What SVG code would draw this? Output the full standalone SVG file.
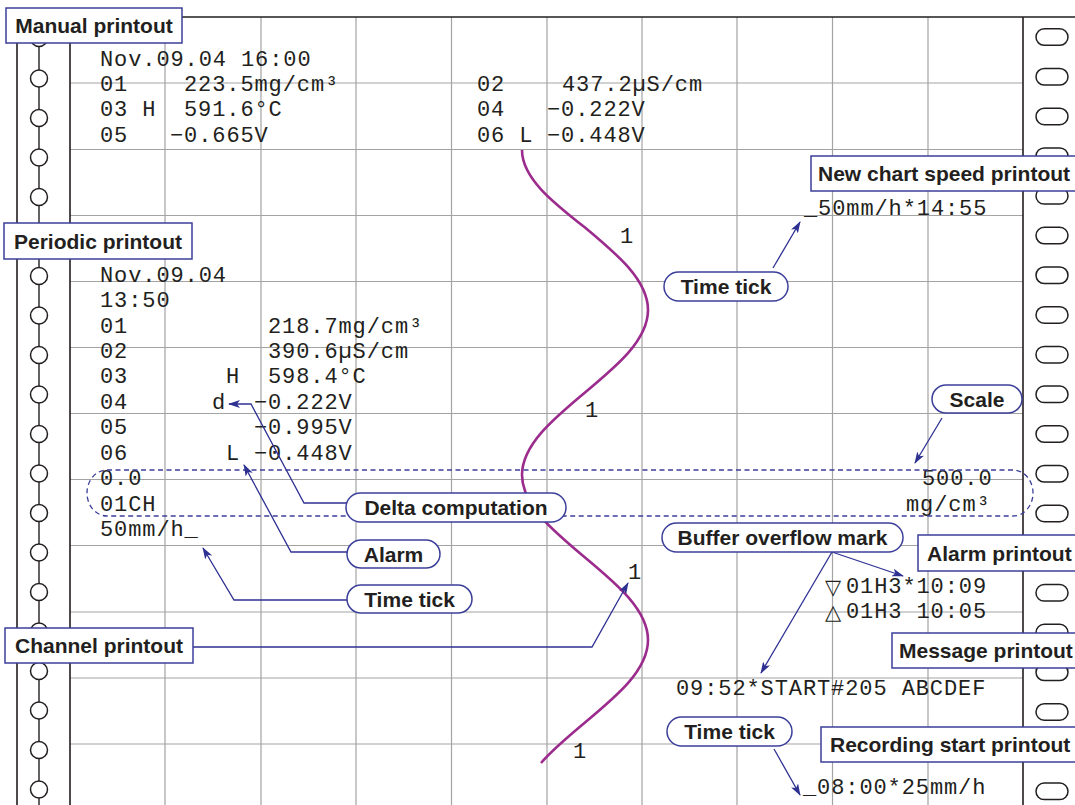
<svg xmlns="http://www.w3.org/2000/svg" width="1075" height="805" viewBox="0 0 1075 805">
<defs>
<style>
.grid{stroke:#a3a3a3;stroke-width:1.2;fill:none}
.frame{stroke:#231f20;stroke-width:1.6;fill:none}
.hole{fill:#fff;stroke:#231f20;stroke-width:1.5}
.mono{font-family:"Liberation Mono","Courier New",monospace;font-size:22px;letter-spacing:0.9px;fill:#231f20}
.sym{font-family:"DejaVu Sans",sans-serif;font-size:21px;fill:#231f20}
.lbl{font-family:"Liberation Sans",Arial,sans-serif;font-weight:bold;font-size:21px;fill:#231f20}
.box{fill:#fff;stroke:#3b3f99;stroke-width:1.5}
.conn{fill:none;stroke:#2e3192;stroke-width:1.3}
.dash{fill:none;stroke:#3b3f99;stroke-width:1.3;stroke-dasharray:5 3.5}
.curve{fill:none;stroke:#9b2b8c;stroke-width:2.6}
</style>
<marker id="ah" viewBox="0 0 12 8" refX="11" refY="4" markerWidth="12" markerHeight="8" markerUnits="userSpaceOnUse" orient="auto">
<path d="M0,0 L12,4 L0,8 L3,4 z" fill="#2e3192"/>
</marker>
</defs>
<rect width="1075" height="805" fill="#fff"/>
<g id="chart-grid">
<path class="grid" d="M165,17V805M261,17V805M356,17V805M451.5,17V805M547,17V805M642,17V805M737,17V805M832.5,17V805M928,17V805"/>
<path class="grid" d="M70,83H1023M70,149.5H1023M70,215.5H1023M70,281.5H1023M70,347.5H1023M70,413.5H1023M70,479.5H1023M70,545.5H1023M70,612H1023M70,678H1023M70,744H1023"/>
<path class="frame" d="M17,17H1075M17,17V805M70,17V805M1023,17V805"/>
</g>
<g id="left-holes">
<path class="frame" d="M39,17V805" style="stroke-width:1.4"/>
<circle class="hole" cx="39" cy="38" r="8.5"/>
<circle class="hole" cx="39" cy="78.5" r="8.5"/>
<circle class="hole" cx="39" cy="118" r="8.5"/>
<circle class="hole" cx="39" cy="157.5" r="8.5"/>
<circle class="hole" cx="39" cy="197" r="8.5"/>
<circle class="hole" cx="39" cy="236.5" r="8.5"/>
<circle class="hole" cx="39" cy="276" r="8.5"/>
<circle class="hole" cx="39" cy="315.5" r="8.5"/>
<circle class="hole" cx="39" cy="355" r="8.5"/>
<circle class="hole" cx="39" cy="394.5" r="8.5"/>
<circle class="hole" cx="39" cy="434" r="8.5"/>
<circle class="hole" cx="39" cy="473.5" r="8.5"/>
<circle class="hole" cx="39" cy="513" r="8.5"/>
<circle class="hole" cx="39" cy="552.5" r="8.5"/>
<circle class="hole" cx="39" cy="592" r="8.5"/>
<circle class="hole" cx="39" cy="631.5" r="8.5"/>
<circle class="hole" cx="39" cy="671" r="8.5"/>
<circle class="hole" cx="39" cy="710.5" r="8.5"/>
<circle class="hole" cx="39" cy="750" r="8.5"/>
<circle class="hole" cx="39" cy="789.5" r="8.5"/>
</g>
<g id="right-slots">
<rect class="hole" x="1036" y="28.8" width="32" height="16.5" rx="8.2"/>
<rect class="hole" x="1036" y="68.5" width="32" height="16.5" rx="8.2"/>
<rect class="hole" x="1036" y="108.2" width="32" height="16.5" rx="8.2"/>
<rect class="hole" x="1036" y="147.9" width="32" height="16.5" rx="8.2"/>
<rect class="hole" x="1036" y="187.6" width="32" height="16.5" rx="8.2"/>
<rect class="hole" x="1036" y="227.3" width="32" height="16.5" rx="8.2"/>
<rect class="hole" x="1036" y="267" width="32" height="16.5" rx="8.2"/>
<rect class="hole" x="1036" y="306.7" width="32" height="16.5" rx="8.2"/>
<rect class="hole" x="1036" y="346.4" width="32" height="16.5" rx="8.2"/>
<rect class="hole" x="1036" y="386.1" width="32" height="16.5" rx="8.2"/>
<rect class="hole" x="1036" y="425.8" width="32" height="16.5" rx="8.2"/>
<rect class="hole" x="1036" y="465.5" width="32" height="16.5" rx="8.2"/>
<rect class="hole" x="1036" y="505.2" width="32" height="16.5" rx="8.2"/>
<rect class="hole" x="1036" y="544.9" width="32" height="16.5" rx="8.2"/>
<rect class="hole" x="1036" y="584.6" width="32" height="16.5" rx="8.2"/>
<rect class="hole" x="1036" y="624.3" width="32" height="16.5" rx="8.2"/>
<rect class="hole" x="1036" y="664" width="32" height="16.5" rx="8.2"/>
<rect class="hole" x="1036" y="703.7" width="32" height="16.5" rx="8.2"/>
<rect class="hole" x="1036" y="743.4" width="32" height="16.5" rx="8.2"/>
<rect class="hole" x="1036" y="783.1" width="32" height="16.5" rx="8.2"/>
</g>
<g id="trace">
<path class="curve" d="M522,150 C522,178 552.7,202.2 585,227.5 C617.3,254.4 648,280.1 648,310 C648,339.9 617.3,365.6 585,392.5 C552.7,419.4 522,445.1 522,475 C522,504.9 552.7,530.6 585,557.5 C617.3,584.4 648,610.1 648,640 C648,669.9 617.3,695.6 585,722.5 C568.8,736 552.6,749.5 541,763"/>
<text class="mono" x="620" y="243">1</text>
<text class="mono" x="585" y="417">1</text>
<text class="mono" x="628" y="579">1</text>
<text class="mono" x="573" y="758">1</text>
</g>
<g id="manual-printout-text">
<text class="mono" x="100" y="66">Nov.09.04 16:00</text>
<text class="mono" x="100" y="91">01</text>
<text class="mono" x="184" y="91">223.5mg/cm³</text>
<text class="mono" x="100" y="116">03 H</text>
<text class="mono" x="184" y="116">591.6°C</text>
<text class="mono" x="100" y="142">05</text>
<text class="mono" x="170" y="142">−0.665V</text>
<text class="mono" x="477" y="91">02</text>
<text class="mono" x="562" y="91">437.2µS/cm</text>
<text class="mono" x="477" y="116">04</text>
<text class="mono" x="547" y="116">−0.222V</text>
<text class="mono" x="477" y="142">06 L</text>
<text class="mono" x="547" y="142">−0.448V</text>
</g>
<g id="periodic-printout-text">
<text class="mono" x="100" y="282">Nov.09.04</text>
<text class="mono" x="100" y="307">13:50</text>
<text class="mono" x="100" y="333">01</text>
<text class="mono" x="268" y="333">218.7mg/cm³</text>
<text class="mono" x="100" y="358">02</text>
<text class="mono" x="268" y="358">390.6µS/cm</text>
<text class="mono" x="100" y="383">03</text>
<text class="mono" x="226" y="383">H</text>
<text class="mono" x="268" y="383">598.4°C</text>
<text class="mono" x="100" y="409">04</text>
<text class="mono" x="212" y="409">d</text>
<text class="mono" x="254" y="409">−0.222V</text>
<text class="mono" x="100" y="434">05</text>
<text class="mono" x="254" y="434">−0.995V</text>
<text class="mono" x="100" y="460">06</text>
<text class="mono" x="226" y="460">L</text>
<text class="mono" x="254" y="460">−0.448V</text>
<text class="mono" x="100" y="485">0.0</text>
<text class="mono" x="100" y="511">01CH</text>
<text class="mono" x="100" y="536">50mm/h_</text>
<text class="mono" x="922" y="485">500.0</text>
<text class="mono" x="906" y="511">mg/cm³</text>
</g>
<g id="right-printouts-text">
<text class="mono" x="804" y="215">_50mm/h*14:55</text>
<text class="sym" x="825" y="594">▽</text>
<text class="mono" x="846" y="593">01H3*10:09</text>
<text class="sym" x="825" y="619">△</text>
<text class="mono" x="846" y="618">01H3 10:05</text>
<text class="mono" x="676" y="695">09:52*START#205 ABCDEF</text>
<text class="mono" x="803" y="794">_08:00*25mm/h</text>
</g>
<g id="scale-region">
<rect class="dash" x="87" y="470" width="946" height="46" rx="20" ry="23"/>
</g>
<g id="connectors">
<path class="conn" d="M773,268 L800,222" marker-end="url(#ah)"/>
<path class="conn" d="M347,503 L304,503 L251,404 L229,404" marker-end="url(#ah)"/>
<path class="conn" d="M348,552 L291,552 L244,465" marker-end="url(#ah)"/>
<path class="conn" d="M348,600 L234,600 L203,548" marker-end="url(#ah)"/>
<path class="conn" d="M192,647 L592,647 L628,583" marker-end="url(#ah)"/>
<path class="conn" d="M942,418 L915,463" marker-end="url(#ah)"/>
<path class="conn" d="M832,552 L903,576" marker-end="url(#ah)"/>
<path class="conn" d="M832,552 L761,673" marker-end="url(#ah)"/>
<path class="conn" d="M774,749 L800,795" marker-end="url(#ah)"/>
</g>
<g id="node-manual-printout">
<rect class="box" x="6" y="8" width="176" height="35"/>
<text class="lbl" x="94" y="33" text-anchor="middle">Manual printout</text>
</g>
<g id="node-periodic-printout">
<rect class="box" x="4" y="223" width="188" height="36"/>
<text class="lbl" x="98" y="248.5" text-anchor="middle">Periodic printout</text>
</g>
<g id="node-channel-printout">
<rect class="box" x="5" y="628" width="188" height="35"/>
<text class="lbl" x="99" y="653" text-anchor="middle">Channel printout</text>
</g>
<g id="node-new-chart-speed-printout">
<rect class="box" x="811" y="156" width="280" height="35"/>
<text class="lbl" x="818" y="181">New chart speed printout</text>
</g>
<g id="node-alarm-printout">
<rect class="box" x="918" y="535" width="170" height="36"/>
<text class="lbl" x="927" y="561">Alarm printout</text>
</g>
<g id="node-message-printout">
<rect class="box" x="892" y="633" width="200" height="35"/>
<text class="lbl" x="899" y="658">Message printout</text>
</g>
<g id="node-recording-start-printout">
<rect class="box" x="821" y="727" width="270" height="35"/>
<text class="lbl" x="830" y="752">Recording start printout</text>
</g>
<g id="node-time-tick-1">
<rect class="box" x="664" y="272" width="124" height="29" rx="14.5"/>
<text class="lbl" x="726" y="294" text-anchor="middle">Time tick</text>
</g>
<g id="node-delta-computation">
<rect class="box" x="346" y="493" width="220" height="29" rx="14.5"/>
<text class="lbl" x="456" y="515" text-anchor="middle">Delta computation</text>
</g>
<g id="node-alarm">
<rect class="box" x="347" y="540" width="93" height="28" rx="14"/>
<text class="lbl" x="393.5" y="561.5" text-anchor="middle">Alarm</text>
</g>
<g id="node-time-tick-2">
<rect class="box" x="347" y="585" width="125" height="28" rx="14"/>
<text class="lbl" x="409.5" y="606.5" text-anchor="middle">Time tick</text>
</g>
<g id="node-scale">
<rect class="box" x="932" y="385" width="90" height="28" rx="14"/>
<text class="lbl" x="977" y="406.5" text-anchor="middle">Scale</text>
</g>
<g id="node-buffer-overflow-mark">
<rect class="box" x="662" y="523" width="241" height="29" rx="14.5"/>
<text class="lbl" x="782.5" y="545" text-anchor="middle">Buffer overflow mark</text>
</g>
<g id="node-time-tick-3">
<rect class="box" x="667" y="717" width="125" height="29" rx="14.5"/>
<text class="lbl" x="729.5" y="739" text-anchor="middle">Time tick</text>
</g>
</svg>
